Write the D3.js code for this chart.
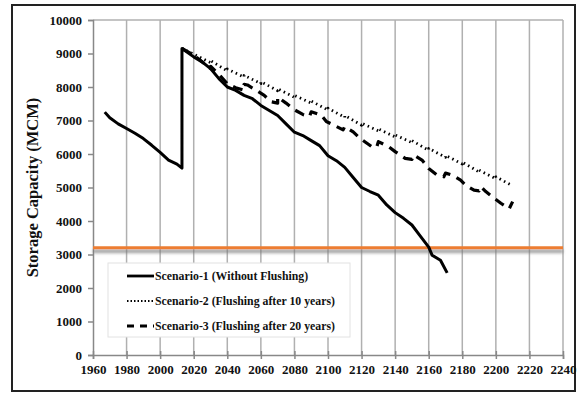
<!DOCTYPE html>
<html><head><meta charset="utf-8">
<script src="https://cdn.jsdelivr.net/npm/d3@7/dist/d3.min.js"></script>
<style>body{margin:0;background:#fff}svg{display:block}text{font-family:"Liberation Serif","Times New Roman",serif;font-weight:bold}</style>
</head><body><svg id="c" width="586" height="396"></svg>
<script>
const xTicks = [1960,1980,2000,2020,2040,2060,2080,2100,2120,2140,2160,2180,2200,2220,2240];
const yTicks = [0,1000,2000,3000,4000,5000,6000,7000,8000,9000,10000];
const seriesNames = ["Scenario-1 (Without Flushing)","Scenario-2 (Flushing after 10 years)","Scenario-3 (Flushing after 20 years)"];
const thresholdValue = 3200;
const s1Years = [1967,1970,1975,1980,1985,1990,1995,2000,2005,2010,2013,2013,2020,2025,2030,2035,2040,2045,2050,2055,2060,2065,2070,2075,2080,2085,2090,2095,2100,2105,2110,2115,2120,2125,2130,2135,2140,2145,2150,2155,2160,2162,2167,2171];
const s1Values = [7250,7080,6900,6760,6620,6460,6260,6050,5820,5700,5580,9150,8900,8750,8550,8250,8000,7900,7750,7650,7450,7300,7150,6900,6650,6550,6400,6250,5950,5800,5600,5300,5000,4880,4770,4480,4250,4080,3880,3550,3220,2980,2830,2450];
const s2Years = [2013,2020,2030,2030,2040,2040,2050,2050,2060,2060,2070,2070,2080,2080,2090,2090,2100,2100,2110,2110,2120,2120,2130,2130,2140,2140,2150,2150,2160,2160,2170,2170,2180,2180,2190,2190,2200,2200,2210];
const s2Values = [9150,8980,8730,8790,8480,8540,8290,8350,8100,8160,7890,7950,7690,7750,7520,7580,7310,7370,7090,7150,6860,6920,6690,6750,6510,6570,6340,6400,6110,6170,5900,5960,5700,5760,5460,5520,5260,5320,5050];
const s3Years = [2013,2020,2025,2030,2030,2035,2040,2045,2050,2050,2052,2057,2062,2066,2070,2070,2075,2080,2085,2089,2090,2096,2099,2105,2109,2110,2115,2119,2126,2129,2130,2136,2140,2146,2150,2151,2156,2160,2165,2169,2170,2174,2179,2182,2187,2190,2191,2194,2199,2203,2208,2210];
const s3Values = [9150,8950,8750,8550,8620,8380,8100,7980,7900,8080,8060,7910,7750,7560,7520,7700,7520,7320,7180,7120,7260,7160,6970,6820,6720,6820,6660,6470,6220,6200,6370,6220,6070,5870,5840,5970,5820,5570,5370,5320,5430,5370,5220,5070,4920,4900,5030,4880,4680,4530,4370,4580];

const svg = d3.select("#c");
const L=93,R=563,T=20,B=355;
const x = d3.scaleLinear().domain([1960,2240]).range([L,R]);
const y = d3.scaleLinear().domain([0,10000]).range([B,T]);

const defs = svg.append("defs");
const f = defs.append("filter").attr("id","sh").attr("filterUnits","userSpaceOnUse")
  .attr("x",0).attr("y",0).attr("width",586).attr("height",396);
f.append("feDropShadow").attr("dx",0).attr("dy",3.5).attr("stdDeviation",1.8).attr("flood-color","#777").attr("flood-opacity",0.85);

// outer border
svg.append("rect").attr("x",12).attr("y",5).attr("width",563).attr("height",386).attr("fill","#fff").attr("stroke","#222").attr("stroke-width",2);

// gridlines
svg.append("g").selectAll("line").data(xTicks.slice(1)).join("line")
  .attr("x1",d=>x(d)).attr("x2",d=>x(d)).attr("y1",T).attr("y2",B)
  .attr("stroke","#b0b0b0").attr("stroke-width",1.5);
svg.append("line").attr("x1",L).attr("x2",R).attr("y1",T).attr("y2",T).attr("stroke","#b0b0b0").attr("stroke-width",1.5);

// axes
const xa = svg.append("g").attr("transform",`translate(0,${B})`)
  .call(d3.axisBottom(x).tickValues(xTicks).tickFormat(d3.format("d")).tickSize(4).tickPadding(6));
const ya = svg.append("g").attr("transform",`translate(${L},0)`)
  .call(d3.axisLeft(y).tickValues(yTicks).tickFormat(d3.format("d")).tickSize(5).tickPadding(6));
[xa,ya].forEach(a=>{a.attr("font-family",null);
  a.select(".domain").attr("stroke","#888").attr("stroke-width",1.5);
  a.selectAll(".tick line").attr("stroke","#888").attr("stroke-width",1.5);
  a.selectAll("text").attr("font-size",13).attr("fill","#111").style("font-family",'"Liberation Serif",serif').style("font-weight","bold");});
xa.selectAll(".tick line").attr("y1",-4);

svg.append("text").attr("transform",`translate(38,${(T+B)/2}) rotate(-90)`).attr("text-anchor","middle")
  .attr("font-size",16.5).attr("fill","#111").text("Storage Capacity (MCM)");

// threshold line
svg.append("line").attr("x1",L).attr("x2",R).attr("y1",y(thresholdValue)).attr("y2",y(thresholdValue))
  .attr("stroke","#ED7D31").attr("stroke-width",3).attr("filter","url(#sh)");

// legend box
svg.append("rect").attr("x",108).attr("y",263).attr("width",242).attr("height",74).attr("fill","#fff").attr("stroke","#e2e2e2").attr("stroke-width",1);

const line = d3.line().x(d=>x(d[0])).y(d=>y(d[1]));
const styles = [
  {dash:null,w:3},
  {dash:"1.5,3.5",w:2.8},
  {dash:"10,7",w:3.2}
];
const data = [d3.zip(s1Years,s1Values), d3.zip(s2Years,s2Values), d3.zip(s3Years,s3Values)];
[2,1,0].forEach(i=>{
  svg.append("path").attr("d",line(data[i])).attr("fill","none").attr("stroke","#000")
    .attr("stroke-width",styles[i].w).attr("stroke-dasharray",styles[i].dash).attr("stroke-linejoin","round");
});

// legend items
seriesNames.forEach((n,i)=>{
  const yy = 276 + i*25;
  svg.append("line").attr("x1",127).attr("x2",154).attr("y1",yy).attr("y2",yy).attr("stroke","#000")
    .attr("stroke-width",i==1?2:2.8).attr("stroke-dasharray",i==0?null:(i==1?"1.5,2":"7,6"));
  svg.append("text").attr("x",155).attr("y",yy+4).attr("font-size",11.8).attr("fill","#111").text(n);
});
</script></body></html>
